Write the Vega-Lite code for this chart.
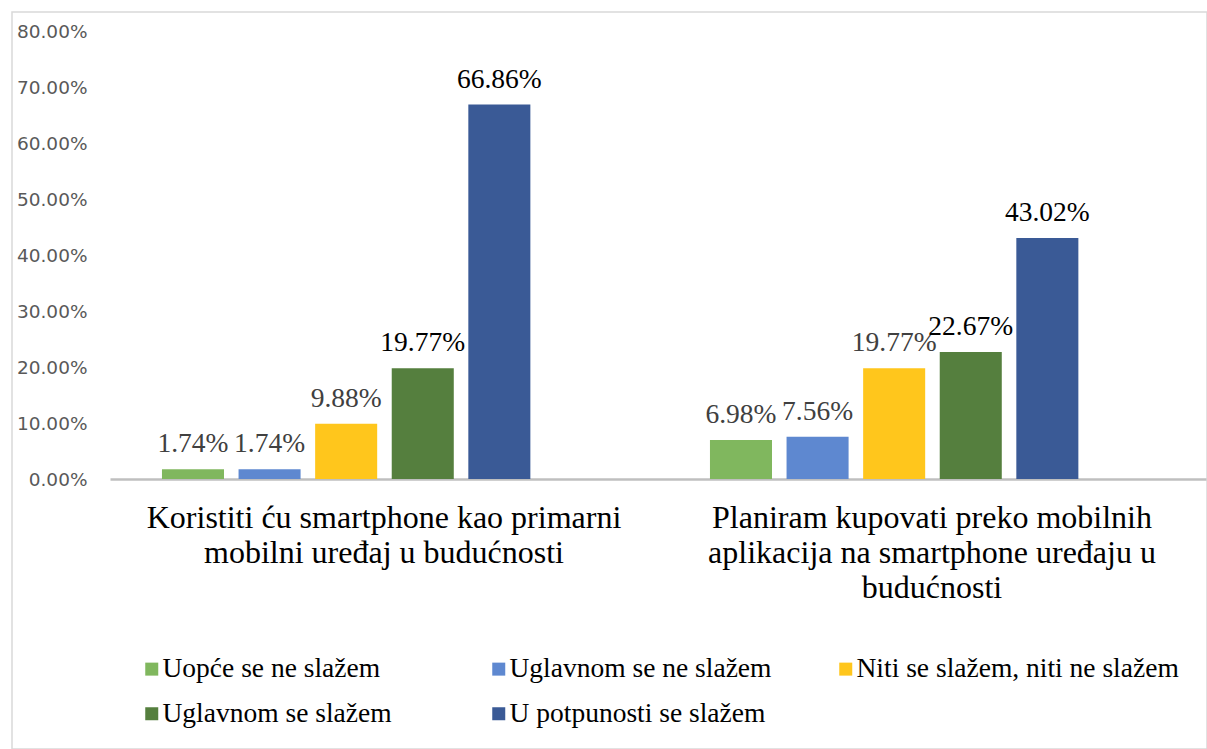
{
  "$schema": "https://vega.github.io/schema/vega-lite/v6.json",
  "width": 1195,
  "height": 737,
  "padding": {"left": 12, "top": 12, "right": 0, "bottom": 0},
  "autosize": {"type": "none"},
  "background": "white",
  "config": {"view": {"stroke": "#d9d9d9", "strokeWidth": 1.5}},
  "data": {
    "values": [
      {"cat": "Koristiti ću smartphone kao primarni|mobilni uređaj u budućnosti", "series": "Uopće se ne slažem", "value": 0.0174},
      {"cat": "Koristiti ću smartphone kao primarni|mobilni uređaj u budućnosti", "series": "Uglavnom se ne slažem", "value": 0.0174},
      {"cat": "Koristiti ću smartphone kao primarni|mobilni uređaj u budućnosti", "series": "Niti se slažem, niti ne slažem", "value": 0.0988},
      {"cat": "Koristiti ću smartphone kao primarni|mobilni uređaj u budućnosti", "series": "Uglavnom se slažem", "value": 0.1977},
      {"cat": "Koristiti ću smartphone kao primarni|mobilni uređaj u budućnosti", "series": "U potpunosti se slažem", "value": 0.6686},
      {"cat": "Planiram kupovati preko mobilnih|aplikacija na smartphone uređaju u|budućnosti", "series": "Uopće se ne slažem", "value": 0.0698},
      {"cat": "Planiram kupovati preko mobilnih|aplikacija na smartphone uređaju u|budućnosti", "series": "Uglavnom se ne slažem", "value": 0.0756},
      {"cat": "Planiram kupovati preko mobilnih|aplikacija na smartphone uređaju u|budućnosti", "series": "Niti se slažem, niti ne slažem", "value": 0.1977},
      {"cat": "Planiram kupovati preko mobilnih|aplikacija na smartphone uređaju u|budućnosti", "series": "Uglavnom se slažem", "value": 0.2267},
      {"cat": "Planiram kupovati preko mobilnih|aplikacija na smartphone uređaju u|budućnosti", "series": "U potpunosti se slažem", "value": 0.4302}
    ]
  },
  "encoding": {
    "x": {
      "field": "cat", "type": "nominal", "sort": null,
      "scale": {"range": [98, 1194], "paddingInner": 0.0482, "paddingOuter": 0.0241},
      "axis": {
        "orient": "bottom", "offset": -270, "title": null, "labelAngle": 0, "ticks": false,
        "domainColor": "#bfbfbf", "domainWidth": 2.5,
        "labelFont": "Liberation Serif", "labelFontSize": 32, "labelColor": "black",
        "labelPadding": 23, "labelLineHeight": 35, "labelBaseline": "top",
        "labelExpr": "split(datum.value, '|')", "labelLimit": 0, "labelOverlap": false
      }
    },
    "xOffset": {
      "field": "series", "type": "nominal",
      "sort": ["Uopće se ne slažem", "Uglavnom se ne slažem", "Niti se slažem, niti ne slažem", "Uglavnom se slažem", "U potpunosti se slažem"],
      "scale": {"paddingInner": 0.19, "paddingOuter": 1, "align": 0.253}
    },
    "y": {
      "field": "value", "type": "quantitative",
      "scale": {"domain": [0, 0.8], "range": [467, 19], "nice": false},
      "axis": {
        "orient": "left", "offset": -98, "values": [0, 0.1, 0.2, 0.3, 0.4, 0.5, 0.6, 0.7, 0.8],
        "format": ".2%", "domain": false, "ticks": false, "grid": false, "title": null,
        "labelFont": "DejaVu Sans", "labelFontSize": 18.5, "labelColor": "#595959", "labelPadding": 23
      }
    }
  },
  "layer": [
    {
      "mark": {"type": "bar"},
      "encoding": {
        "color": {
          "field": "series", "type": "nominal",
          "sort": ["Uopće se ne slažem", "Uglavnom se ne slažem", "Niti se slažem, niti ne slažem", "Uglavnom se slažem", "U potpunosti se slažem"],
          "scale": {
            "domain": ["Uopće se ne slažem", "Uglavnom se ne slažem", "Niti se slažem, niti ne slažem", "Uglavnom se slažem", "U potpunosti se slažem"],
            "range": ["#80b75e", "#5e88d0", "#ffc61c", "#557f3e", "#3a5a96"]
          },
          "legend": {
            "orient": "none", "legendX": 126, "legendY": 643, "columns": 3, "direction": "horizontal",
            "gridAlign": "all", "columnPadding": 0, "rowPadding": 16, "title": null, "padding": 0,
            "symbolType": "square", "symbolSize": 169, "symbolStrokeWidth": 0,
            "labelFont": "Liberation Serif", "labelFontSize": 27.5, "labelColor": "black",
            "labelLimit": 0, "labelOffset": -3
          }
        }
      }
    },
    {
      "mark": {"type": "text", "baseline": "alphabetic", "dy": -17, "font": "Liberation Serif", "fontSize": 27.5},
      "encoding": {
        "text": {"field": "value", "type": "quantitative", "format": ".2%"},
        "color": {
          "condition": {"test": "datum.series === 'Uglavnom se slažem' || datum.series === 'U potpunosti se slažem'", "value": "black"},
          "value": "#404040"
        }
      }
    }
  ]
}
